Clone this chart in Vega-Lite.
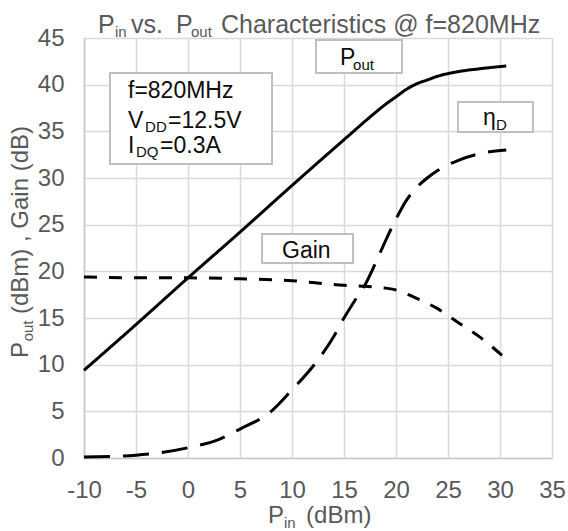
{
  "$schema": "https://vega.github.io/schema/vega-lite/v6.json",
  "width": 468,
  "height": 420,
  "autosize": {"type": "none"},
  "padding": {"left": 84, "top": 38, "right": 16, "bottom": 73},
  "background": "white",
  "config": {
    "view": {"stroke": null},
    "font": "Liberation Sans",
    "axis": {
      "labelFont": "Liberation Sans",
      "labelFontSize": 24,
      "labelColor": "#595959",
      "gridColor": "#d9d9d9",
      "gridWidth": 1.5,
      "domainColor": "#c8c8c8",
      "domainWidth": 1.5,
      "ticks": false,
      "tickSize": 0,
      "labelPadding": 20,
      "labelOverlap": false,
      "labelFlush": false,
      "labelBound": false,
      "labelExpr": "datum.value + ''",
      "title": null
    }
  },
  "datasets": {
    "curves": [
      {"s": "Pout", "pin": -10, "v": 9.4}, {"s": "Pout", "pin": -5, "v": 14.3}, {"s": "Pout", "pin": 0, "v": 19.3},
      {"s": "Pout", "pin": 5, "v": 24.2}, {"s": "Pout", "pin": 10, "v": 29.2}, {"s": "Pout", "pin": 15, "v": 34.1},
      {"s": "Pout", "pin": 18, "v": 37.0}, {"s": "Pout", "pin": 19, "v": 37.9}, {"s": "Pout", "pin": 20, "v": 38.7},
      {"s": "Pout", "pin": 21, "v": 39.5}, {"s": "Pout", "pin": 22, "v": 40.1}, {"s": "Pout", "pin": 23, "v": 40.5},
      {"s": "Pout", "pin": 24, "v": 40.9}, {"s": "Pout", "pin": 26, "v": 41.4}, {"s": "Pout", "pin": 28, "v": 41.7},
      {"s": "Pout", "pin": 30.6, "v": 42.0},
      {"s": "Gain", "pin": -10, "v": 19.4}, {"s": "Gain", "pin": -5, "v": 19.3}, {"s": "Gain", "pin": 0, "v": 19.3},
      {"s": "Gain", "pin": 5, "v": 19.2}, {"s": "Gain", "pin": 10, "v": 19.0}, {"s": "Gain", "pin": 12, "v": 18.8},
      {"s": "Gain", "pin": 15, "v": 18.5}, {"s": "Gain", "pin": 17, "v": 18.4}, {"s": "Gain", "pin": 19, "v": 18.2},
      {"s": "Gain", "pin": 20, "v": 18.0}, {"s": "Gain", "pin": 21, "v": 17.6}, {"s": "Gain", "pin": 22, "v": 17.1},
      {"s": "Gain", "pin": 24, "v": 16.0}, {"s": "Gain", "pin": 26, "v": 14.5}, {"s": "Gain", "pin": 28, "v": 13.0},
      {"s": "Gain", "pin": 30.2, "v": 11.0},
      {"s": "etaD", "pin": -10, "v": 0.1}, {"s": "etaD", "pin": -5, "v": 0.3}, {"s": "etaD", "pin": 0, "v": 1.1},
      {"s": "etaD", "pin": 3, "v": 2.0}, {"s": "etaD", "pin": 5, "v": 3.1}, {"s": "etaD", "pin": 8, "v": 5.0},
      {"s": "etaD", "pin": 10, "v": 7.3}, {"s": "etaD", "pin": 12, "v": 9.8}, {"s": "etaD", "pin": 14, "v": 13.0},
      {"s": "etaD", "pin": 15, "v": 15.0}, {"s": "etaD", "pin": 16, "v": 16.8}, {"s": "etaD", "pin": 17, "v": 18.5},
      {"s": "etaD", "pin": 18, "v": 20.8}, {"s": "etaD", "pin": 19, "v": 23.3}, {"s": "etaD", "pin": 20, "v": 25.6},
      {"s": "etaD", "pin": 21, "v": 27.6}, {"s": "etaD", "pin": 22, "v": 29.0}, {"s": "etaD", "pin": 23, "v": 30.0},
      {"s": "etaD", "pin": 24, "v": 30.8}, {"s": "etaD", "pin": 26, "v": 31.9}, {"s": "etaD", "pin": 28, "v": 32.6},
      {"s": "etaD", "pin": 30.6, "v": 33.0}
    ],
    "boxes": [
      {"name": "info", "x1": -7.5, "x2": 8.08, "y1": 41.25, "y2": 31.5},
      {"name": "pout", "x1": 12.31, "x2": 20.58, "y1": 44.79, "y2": 41.25},
      {"name": "eta", "x1": 25.96, "x2": 33.17, "y1": 38.14, "y2": 34.93},
      {"name": "gain", "x1": 7.12, "x2": 15.87, "y1": 24.0, "y2": 20.89}
    ],
    "annoMain": [
      {"t": "f=820MHz", "x": -5.77, "y": 38.57},
      {"t": "V", "x": -5.77, "y": 35.36},
      {"t": "=12.5V", "x": -1.92, "y": 35.36},
      {"t": "I", "x": -5.77, "y": 32.68},
      {"t": "=0.3A", "x": -2.69, "y": 32.68},
      {"t": "P", "x": 14.62, "y": 42.11},
      {"t": "η", "x": 28.37, "y": 35.68},
      {"t": "Gain", "x": 9.04, "y": 21.43}
    ],
    "annoSub": [
      {"t": "DD", "x": -4.13, "y": 34.93},
      {"t": "DQ", "x": -5.0, "y": 32.25},
      {"t": "out", "x": 15.87, "y": 41.57},
      {"t": "D", "x": 29.62, "y": 35.14}
    ],
    "titleMain": [
      {"t": "P", "x": -8.65, "y": 45.54},
      {"t": "vs.", "x": -5.48, "y": 45.54},
      {"t": "P", "x": -1.15, "y": 45.54},
      {"t": "Characteristics @ f=820MHz", "x": 3.17, "y": 45.54}
    ],
    "titleSub": [
      {"t": "in", "x": -7.02, "y": 45.11},
      {"t": "out", "x": 0.29, "y": 45.11},
      {"t": "in", "x": 9.23, "y": -7.5}
    ],
    "xTitleMain": [
      {"t": "P", "x": 7.69, "y": -6.97},
      {"t": "(dBm)", "x": 11.35, "y": -6.97}
    ],
    "yTitleMain": [
      {"t": "P", "x": -15.38, "y": 10.71},
      {"t": "(dBm) , Gain (dB)", "x": -15.38, "y": 15.43}
    ],
    "yTitleSub": [
      {"t": "out", "x": -14.9, "y": 12.5}
    ]
  },
  "layer": [
    {
      "data": {"name": "curves"},
      "mark": {"type": "line", "color": "black", "strokeWidth": 3, "interpolate": "monotone", "strokeCap": "butt"},
      "encoding": {
        "x": {"field": "pin", "type": "quantitative", "scale": {"domain": [-10, 35], "nice": false, "zero": false},
              "axis": {"values": [-10, -5, 0, 5, 10, 15, 20, 25, 30, 35]}},
        "y": {"field": "v", "type": "quantitative", "scale": {"domain": [0, 45], "nice": false},
              "axis": {"values": [0, 5, 10, 15, 20, 25, 30, 35, 40, 45]}},
        "detail": {"field": "s"},
        "strokeDash": {"field": "s", "type": "nominal", "legend": null,
          "scale": {"domain": ["Pout", "Gain", "etaD"], "range": [[1, 0], [13, 12], [26, 13]]}}
      }
    },
    {
      "data": {"name": "boxes"},
      "mark": {"type": "rect", "fill": "white", "stroke": "#bfbfbf", "strokeWidth": 2},
      "encoding": {
        "x": {"field": "x1", "type": "quantitative"},
        "x2": {"field": "x2"},
        "y": {"field": "y1", "type": "quantitative"},
        "y2": {"field": "y2"}
      }
    },
    {
      "data": {"name": "annoMain"},
      "mark": {"type": "text", "align": "left", "baseline": "alphabetic", "fontSize": 23, "color": "#0d0d0d", "font": "Liberation Sans"},
      "encoding": {
        "x": {"field": "x", "type": "quantitative"},
        "y": {"field": "y", "type": "quantitative"},
        "text": {"field": "t"}
      }
    },
    {
      "data": {"name": "annoSub"},
      "mark": {"type": "text", "align": "left", "baseline": "alphabetic", "fontSize": 15, "color": "#0d0d0d", "font": "Liberation Sans"},
      "encoding": {
        "x": {"field": "x", "type": "quantitative"},
        "y": {"field": "y", "type": "quantitative"},
        "text": {"field": "t"}
      }
    },
    {
      "data": {"name": "titleMain"},
      "mark": {"type": "text", "align": "left", "baseline": "alphabetic", "fontSize": 25, "color": "#595959", "font": "Liberation Sans"},
      "encoding": {
        "x": {"field": "x", "type": "quantitative"},
        "y": {"field": "y", "type": "quantitative"},
        "text": {"field": "t"}
      }
    },
    {
      "data": {"name": "xTitleMain"},
      "mark": {"type": "text", "align": "left", "baseline": "alphabetic", "fontSize": 24, "color": "#595959", "font": "Liberation Sans"},
      "encoding": {
        "x": {"field": "x", "type": "quantitative"},
        "y": {"field": "y", "type": "quantitative"},
        "text": {"field": "t"}
      }
    },
    {
      "data": {"name": "titleSub"},
      "mark": {"type": "text", "align": "left", "baseline": "alphabetic", "fontSize": 15, "color": "#595959", "font": "Liberation Sans"},
      "encoding": {
        "x": {"field": "x", "type": "quantitative"},
        "y": {"field": "y", "type": "quantitative"},
        "text": {"field": "t"}
      }
    },
    {
      "data": {"name": "yTitleMain"},
      "mark": {"type": "text", "align": "left", "baseline": "alphabetic", "fontSize": 24, "angle": 270, "color": "#595959", "font": "Liberation Sans"},
      "encoding": {
        "x": {"field": "x", "type": "quantitative"},
        "y": {"field": "y", "type": "quantitative"},
        "text": {"field": "t"}
      }
    },
    {
      "data": {"name": "yTitleSub"},
      "mark": {"type": "text", "align": "left", "baseline": "alphabetic", "fontSize": 15, "angle": 270, "color": "#595959", "font": "Liberation Sans"},
      "encoding": {
        "x": {"field": "x", "type": "quantitative"},
        "y": {"field": "y", "type": "quantitative"},
        "text": {"field": "t"}
      }
    }
  ]
}
